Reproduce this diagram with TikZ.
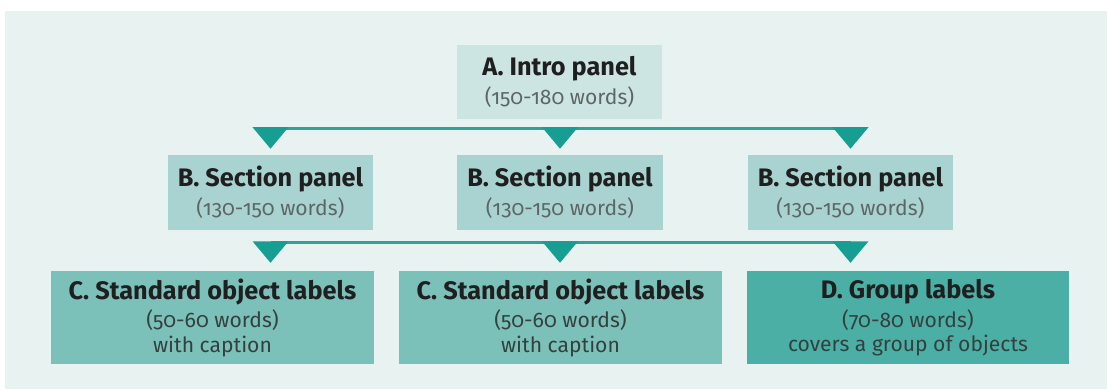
\documentclass[tikz,border=0pt]{standalone}
\usepackage{fontspec}
\setmainfont{Fira Sans}[Numbers=OldStyle]
\usetikzlibrary{calc}

\definecolor{bgcol}{HTML}{E8F2F0}
\definecolor{acol}{HTML}{CCE5E2}
\definecolor{bcol}{HTML}{A8D3D0}
\definecolor{ccol}{HTML}{7BC0B9}
\definecolor{dcol}{HTML}{4BAFA6}
\definecolor{linecol}{HTML}{2FA297}
\definecolor{tricol}{HTML}{169E93}
\definecolor{subcol}{HTML}{5E6665}
\definecolor{darksub}{HTML}{34403E}

\tikzset{
  panel/.style={inner sep=0pt, align=center, text=black!88,
    font=\fontsize{18}{20.6}\selectfont},
  apanel/.style={panel, fill=acol, minimum width=5.125cm, minimum height=1.85cm},
  bpanel/.style={panel, fill=bcol, minimum width=5.125cm, minimum height=1.875cm},
  cpanel/.style={panel, fill=ccol, minimum width=8.05cm, minimum height=2.325cm},
  dpanel/.style={panel, fill=dcol, minimum width=8.05cm, minimum height=2.325cm},
  bus/.style={draw=linecol, line width=2.2pt}
}
\def\ttl#1{\textbf{#1}}
\def\sub#1{{\fontsize{15}{17}\selectfont\color{subcol}#1}}
\def\dsub#1{{\fontsize{15}{17}\selectfont\color{darksub}#1}}
\def\marker(#1){\fill[tricol] ($(#1)+(-18,1.5)$) -- ($(#1)+(18,1.5)$) -- ($(#1)+(0,-20)$) -- cycle;}

\begin{document}
\begin{tikzpicture}[x=0.025cm, y=0.025cm]
  %%%%% START %%%%%
  \useasboundingbox (0,0) rectangle (1107,389);
  \fill[bgcol] (5,0) rectangle (1107,378);

  % top panel
  \node[apanel] (A) at (559.5,307) {\ttl{A. Intro panel}\\\sub{(150-180 words)}};

  % section panels
  \node[bpanel] (B1) at (270.5,196.5) {\ttl{B. Section panel}\\\sub{(130-150 words)}};
  \node[bpanel] (B2) at (560,196.5) {\ttl{B. Section panel}\\\sub{(130-150 words)}};
  \node[bpanel] (B3) at (850.5,196.5) {\ttl{B. Section panel}\\\sub{(130-150 words)}};

  % labels
  \node[cpanel] (C1) at (212.5,71.5) {\ttl{C. Standard object labels}\\\dsub{(50-60 words)}\\[-3.5pt]\dsub{with caption}};
  \node[cpanel] (C2) at (560.5,71.5) {\ttl{C. Standard object labels}\\\dsub{(50-60 words)}\\[-3.5pt]\dsub{with caption}};
  \node[dpanel] (D) at (908,71.5) {\ttl{D. Group labels}\\\dsub{(70-80 words)}\\[-3.5pt]\dsub{covers a group of objects}};

  % bus A -> B
  \coordinate (ta1) at ($(B1.north)+(0,26)$);
  \coordinate (ta2) at ($(B2.north)+(0,26)$);
  \coordinate (ta3) at ($(B3.north)+(0,26)$);
  \draw[bus] (ta1) -- (ta3);
  \marker(ta1) \marker(ta2) \marker(ta3)

  % bus B -> C
  \coordinate (tb1) at ($(B1.south)+(0,-12.5)$);
  \coordinate (tb2) at ($(B2.south)+(0,-12.5)$);
  \coordinate (tb3) at ($(B3.south)+(0,-12.5)$);
  \draw[bus] (tb1) -- (tb3);
  \marker(tb1) \marker(tb2) \marker(tb3)
  %%%%% END %%%%%
\end{tikzpicture}
\end{document}
